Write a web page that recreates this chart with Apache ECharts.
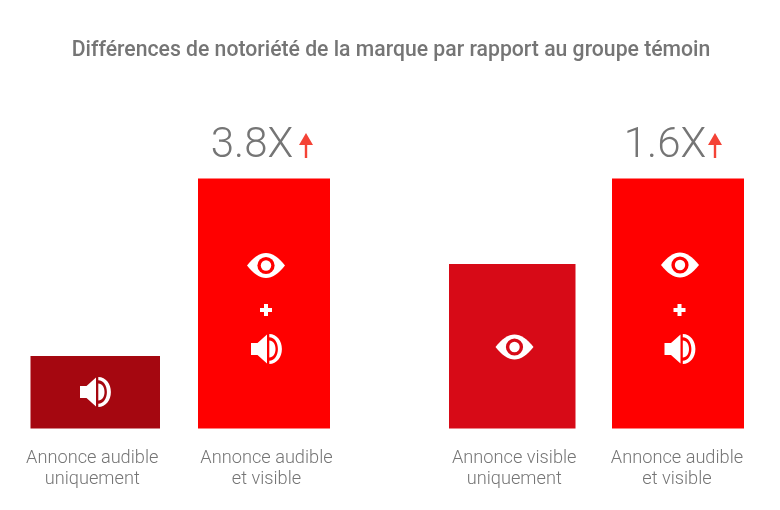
<!DOCTYPE html>
<html><head><meta charset="utf-8">
<style>html,body{margin:0;padding:0;background:#fff}#c{width:780px;height:510px}</style>
<script src="https://cdn.jsdelivr.net/npm/echarts@6/dist/echarts.min.js"></script>
</head><body><div id="c"></div>
<script>
var title = 'Différences de notoriété de la marque par rapport au groupe témoin';
var categories = ['Annonce audible\nuniquement', 'Annonce audible\net visible', 'Annonce visible\nuniquement', 'Annonce audible\net visible'];
var values = [29, 100, 65.8, 100];
var multipliers = ['', '3.8X', '', '1.6X'];

var colors = ['#a50710', '#ff0000', '#d70a17', '#ff0000'];
var barBoxes = [[30.5, 129.5], [198, 132], [449, 126.5], [612, 132]];
var labelShift = [6, -5, -4, 2];
var valueShift = [0, -12, 0, -13];
var GREY = '#757575', ARROW = '#f44336';

var EYE = 'M-19 0C-13 -8 -6 -12.5 0 -12.5C6 -12.5 13 -8 19 0C13 8 6 12.5 0 12.5C-6 12.5 -13 8 -19 0Z';
var SPK = 'M-15.5 -6L-9 -6L0.5 -14.5L0.5 14.5L-9 6L-15.5 6Z' +
          'M2.8 -8.5C6.8 -8.5 9 -4.5 9 0C9 4.5 6.8 8.5 2.8 8.5Z' +
          'M2.8 -15C10.5 -15 15.4 -8 15.4 0C15.4 8 10.5 15 2.8 15L2.8 11.8C8 11.8 11.4 6.5 11.4 0C11.4 -6.5 8 -11.8 2.8 -11.8Z';
var PLUS = 'M-2 -6L2 -6L2 -2L6 -2L6 2L2 2L2 6L-2 6L-2 2L-6 2L-6 -2L-2 -2Z';
var ARR = 'M0 -12.5L7 -0.5L1.2 -0.5L1.2 12.5L-1.2 12.5L-1.2 -0.5L-7 -0.5Z';

function path(d, x, y, fill) { return {type:'path', x:x, y:y, shape:{pathData:d}, style:{fill:fill}}; }
function eye(x, y, col) {
  return [path(EYE, x, y, '#fff'),
    {type:'circle', x:x, y:y, shape:{cx:0, cy:0, r:8.6}, style:{fill:col}},
    {type:'circle', x:x, y:y, shape:{cx:0, cy:0, r:5.2}, style:{fill:'#fff'}}];
}
var icons = [].concat(
  [path(SPK, 95.5, 392, '#fff')],
  eye(266, 265.5, colors[1]), [path(PLUS, 266, 310, '#fff'), path(SPK, 266.5, 349, '#fff')],
  eye(514.5, 347, colors[2]),
  eye(680, 265, colors[3]), [path(PLUS, 679.5, 310, '#fff'), path(SPK, 680, 349, '#fff')],
  [path(ARR, 306, 145.5, ARROW), path(ARR, 715, 145.5, ARROW)]
);

var grids = [], xAxes = [], yAxes = [], series = [];
categories.forEach(function (cat, i) {
  grids.push({left: barBoxes[i][0], width: barBoxes[i][1], top: 178.5, height: 250});
  xAxes.push({gridIndex:i, type:'category', data:[cat],
    axisLine:{show:false}, axisTick:{show:false},
    axisLabel:{interval:0, margin:20, lineHeight:20.5, fontFamily:'Roboto', fontWeight:300, fontSize:18.2, color:GREY,
      align:'center', padding: labelShift[i] > 0 ? [0, labelShift[i], 0, 0] : [0, 0, 0, -labelShift[i]]}});
  yAxes.push({gridIndex:i, type:'value', min:0, max:100, show:false});
  series.push({type:'bar', xAxisIndex:i, yAxisIndex:i, barWidth:'100%', silent:true,
    data:[{value:values[i], itemStyle:{color:colors[i]}}],
    label:{show: !!multipliers[i], position:'top', distance:11, offset:[valueShift[i], 0],
      formatter:multipliers[i], fontFamily:'Roboto', fontWeight:300, fontSize:42, color:GREY}});
});
series.push({type:'custom', coordinateSystem:'none', silent:true, z:5, data:[0],
  renderItem:function () { return {type:'group', children:icons}; }});

var chart = echarts.init(document.getElementById('c'), null, {renderer:'canvas'});
chart.setOption({
  animation:false,
  title:{text:title, left:386, top:35, textAlign:'center',
    textStyle:{fontFamily:'Roboto', fontWeight:500, fontSize:21.2, color:GREY}},
  grid:grids, xAxis:xAxes, yAxis:yAxes, series:series
});
</script></body></html>
